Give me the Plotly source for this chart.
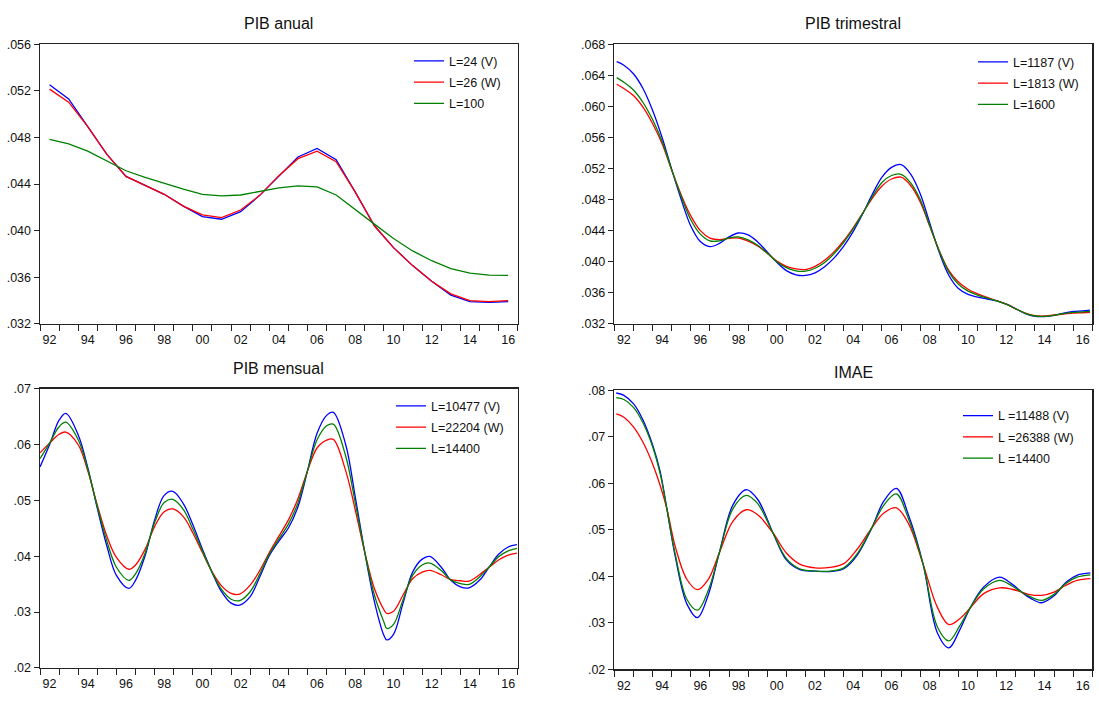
import plotly.graph_objects as go

W, H = 1099, 703

# ---------------- data ----------------
# PIB anual (annual observations)
anual_years = list(range(1992, 2017))
anual_v = [0.05252, 0.05131, 0.04893, 0.04654, 0.04466, 0.04387, 0.04312, 0.04211, 0.04121, 0.04098,
           0.04163, 0.04303, 0.04472, 0.04632, 0.04705, 0.04609, 0.04331, 0.04042, 0.03854, 0.03700,
           0.03565, 0.03447, 0.03391, 0.03385, 0.03391]
anual_w = [0.05215, 0.05103, 0.04893, 0.04654, 0.04466, 0.04387, 0.04312, 0.04211, 0.04135, 0.04112,
           0.04177, 0.04303, 0.04472, 0.04618, 0.04682, 0.04592, 0.04331, 0.04042, 0.03854, 0.03700,
           0.03565, 0.03458, 0.03399, 0.03391, 0.03399]
anual_l = [0.04783, 0.04744, 0.04682, 0.04598, 0.04514, 0.04458, 0.04407, 0.04356, 0.04312, 0.04298,
           0.04306, 0.04337, 0.04368, 0.04385, 0.04376, 0.04306, 0.04185, 0.04056, 0.03933, 0.03826,
           0.03742, 0.03674, 0.03635, 0.03618, 0.03616]

# PIB trimestral (values read at these dates, in years)
trim_x = [1992.125, 1992.5, 1993.0, 1993.5, 1994.0, 1994.5, 1995.0, 1995.5, 1996.0, 1996.5,
          1997.0, 1997.5, 1998.0, 1998.5, 1999.0, 1999.5, 2000.0, 2000.5, 2001.0, 2001.5,
          2002.0, 2002.5, 2003.0, 2003.5, 2004.0, 2004.5, 2005.0, 2005.5, 2006.0, 2006.5,
          2007.0, 2007.5, 2008.0, 2008.5, 2009.0, 2009.5, 2010.0, 2010.5, 2011.0, 2011.5,
          2012.0, 2012.5, 2013.0, 2013.5, 2014.0, 2014.5, 2015.0, 2015.5, 2016.0, 2016.5, 2016.875]
trim_v = [0.06575, 0.06530, 0.06420, 0.06230, 0.05950, 0.05600, 0.05190, 0.04800, 0.04460, 0.04260,
          0.04194, 0.04236, 0.04320, 0.04370, 0.04345, 0.04255, 0.04126, 0.03992, 0.03886, 0.03832,
          0.03823, 0.03857, 0.03935, 0.04050, 0.04200, 0.04390, 0.04620, 0.04870, 0.05090, 0.05215,
          0.05250, 0.05128, 0.04876, 0.04497, 0.04118, 0.03823, 0.03655, 0.03579, 0.03545, 0.03520,
          0.03495, 0.03453, 0.03394, 0.03331, 0.03297, 0.03293, 0.03309, 0.03339, 0.03360, 0.03368, 0.03377]
trim_w = [0.06285, 0.06230, 0.06140, 0.05990, 0.05780, 0.05520, 0.05180, 0.04860, 0.04590, 0.04400,
          0.04305, 0.04285, 0.04300, 0.04305, 0.04265, 0.04202, 0.04110, 0.04008, 0.03941, 0.03907,
          0.03899, 0.03941, 0.04020, 0.04130, 0.04270, 0.04440, 0.04630, 0.04820, 0.04975, 0.05065,
          0.05088, 0.04981, 0.04771, 0.04455, 0.04139, 0.03886, 0.03739, 0.03646, 0.03587, 0.03541,
          0.03499, 0.03453, 0.03394, 0.03339, 0.03305, 0.03301, 0.03314, 0.03326, 0.03339, 0.03343, 0.03347]
trim_l = [0.06370, 0.06310, 0.06210, 0.06050, 0.05830, 0.05550, 0.05185, 0.04840, 0.04540, 0.04355,
          0.04268, 0.04268, 0.04307, 0.04320, 0.04282, 0.04211, 0.04110, 0.04000, 0.03924, 0.03882,
          0.03878, 0.03916, 0.03990, 0.04105, 0.04250, 0.04425, 0.04625, 0.04840, 0.05020, 0.05110,
          0.05125, 0.05015, 0.04800, 0.04463, 0.04135, 0.03865, 0.03709, 0.03621, 0.03571, 0.03533,
          0.03495, 0.03453, 0.03394, 0.03335, 0.03301, 0.03297, 0.03309, 0.03331, 0.03347, 0.03354, 0.03360]

# PIB mensual
mens_x = [1992.0, 1992.5, 1993.0, 1993.35, 1994.0, 1994.5, 1995.0, 1995.5, 1996.0, 1996.65,
          1997.0, 1997.5, 1998.0, 1998.5, 1998.95, 1999.5, 2000.0, 2000.5, 2001.0, 2001.5,
          2002.0, 2002.45, 2003.0, 2003.5, 2004.0, 2004.5, 2005.0, 2005.5, 2006.0, 2006.5,
          2007.0, 2007.35, 2008.0, 2008.5, 2009.0, 2009.5, 2010.0, 2010.15, 2010.5, 2011.0,
          2011.5, 2012.0, 2012.4, 2013.0, 2013.5, 2014.0, 2014.45, 2015.0, 2015.5, 2016.0,
          2016.5, 2016.96]
mens_v = [0.05596, 0.05994, 0.06433, 0.06555, 0.06170, 0.05585, 0.04854, 0.04181, 0.03655, 0.03422,
          0.03567, 0.04006, 0.04649, 0.05088, 0.05160, 0.04941, 0.04561, 0.04123, 0.03714, 0.03363,
          0.03158, 0.03124, 0.03275, 0.03626, 0.04006, 0.04269, 0.04503, 0.04883, 0.05526, 0.06199,
          0.06520, 0.06575, 0.05994, 0.05058, 0.04064, 0.03187, 0.02580, 0.02500, 0.02600, 0.03158,
          0.03714, 0.03947, 0.03994, 0.03801, 0.03567, 0.03450, 0.03433, 0.03567, 0.03801, 0.04035,
          0.04164, 0.04205]
mens_w = [0.05848, 0.06023, 0.06181, 0.06220, 0.05994, 0.05526, 0.04912, 0.04357, 0.03977, 0.03765,
          0.03842, 0.04123, 0.04532, 0.04795, 0.04845, 0.04708, 0.04415, 0.04064, 0.03725, 0.03468,
          0.03333, 0.03320, 0.03480, 0.03743, 0.04064, 0.04357, 0.04649, 0.05029, 0.05526, 0.05936,
          0.06076, 0.06090, 0.05526, 0.04825, 0.04064, 0.03421, 0.03041, 0.02975, 0.03012, 0.03304,
          0.03596, 0.03714, 0.03745, 0.03667, 0.03579, 0.03560, 0.03552, 0.03667, 0.03801, 0.03930,
          0.04018, 0.04053]
mens_l = [0.05743, 0.06023, 0.06316, 0.06398, 0.06082, 0.05556, 0.04883, 0.04269, 0.03801, 0.03567,
          0.03684, 0.04053, 0.04602, 0.04959, 0.05017, 0.04836, 0.04485, 0.04094, 0.03714, 0.03404,
          0.03228, 0.03205, 0.03363, 0.03678, 0.04035, 0.04310, 0.04573, 0.04953, 0.05526, 0.06082,
          0.06333, 0.06362, 0.05789, 0.04953, 0.04064, 0.03304, 0.02819, 0.02705, 0.02778, 0.03216,
          0.03655, 0.03842, 0.03877, 0.03743, 0.03573, 0.03510, 0.03495, 0.03626, 0.03801, 0.03988,
          0.04094, 0.04140]

# IMAE
imae_x = [1992.1, 1992.5, 1993.0, 1993.5, 1994.0, 1994.4, 1994.75, 1995.2, 1995.8, 1996.35,
          1996.9, 1997.5, 1998.2, 1998.9, 1999.5, 2000.3, 2001.0, 2001.7, 2002.5, 2003.3,
          2004.0, 2004.7, 2005.45, 2006.1, 2006.75, 2007.4, 2008.15, 2008.9, 2009.5, 2010.05,
          2010.6, 2011.3, 2012.15, 2012.8, 2013.3, 2013.8, 2014.35, 2015.0, 2015.6, 2016.2, 2016.9]
imae_v = [0.0794, 0.0789, 0.0771, 0.0736, 0.0683, 0.0625, 0.0545, 0.0440, 0.0340, 0.0311,
          0.0358, 0.0452, 0.0553, 0.0586, 0.0565, 0.0493, 0.0435, 0.0414, 0.0411, 0.0410,
          0.0416, 0.0445, 0.0502, 0.0562, 0.0589, 0.0530, 0.0426, 0.0278, 0.0246, 0.0283,
          0.0331, 0.0376, 0.0398, 0.0383, 0.0366, 0.0352, 0.0343, 0.0358, 0.0386, 0.0402, 0.0407]
imae_w = [0.0749, 0.0742, 0.0721, 0.0688, 0.0642, 0.0595, 0.0545, 0.0462, 0.0393, 0.0371,
          0.0392, 0.0451, 0.0518, 0.0543, 0.0532, 0.0493, 0.0450, 0.0426, 0.0418, 0.0419,
          0.0427, 0.0458, 0.0503, 0.0536, 0.0547, 0.0512, 0.0426, 0.0333, 0.0296, 0.0308,
          0.0331, 0.0362, 0.0375, 0.0372, 0.0366, 0.0360, 0.0359, 0.0366, 0.0380, 0.0391, 0.0395]
imae_l = [0.0784, 0.0780, 0.0763, 0.0730, 0.0679, 0.0620, 0.0545, 0.0445, 0.0350, 0.0327,
          0.0368, 0.0451, 0.0545, 0.0574, 0.0556, 0.0493, 0.0438, 0.0416, 0.0411, 0.0411,
          0.0418, 0.0448, 0.0503, 0.0553, 0.0577, 0.0522, 0.0426, 0.0291, 0.0261, 0.0292,
          0.0331, 0.0372, 0.0391, 0.0379, 0.0366, 0.0355, 0.0348, 0.0361, 0.0384, 0.0398, 0.0403]

# labels
titles = ["PIB anual", "PIB trimestral", "PIB mensual", "IMAE"]
names_anual = ["L=24 (V)", "L=26 (W)", "L=100"]
names_trim = ["L=1187 (V)", "L=1813 (W)", "L=1600"]
names_mens = ["L=10477 (V)", "L=22204 (W)", "L=14400"]
names_imae = ["L =11488 (V)", "L =26388 (W)", "L =14400"]

year_labels = ["92", "94", "96", "98", "00", "02", "04", "06", "08", "10", "12", "14", "16"]
label_years = [1992, 1994, 1996, 1998, 2000, 2002, 2004, 2006, 2008, 2010, 2012, 2014, 2016]

yt_anual = [0.032, 0.036, 0.040, 0.044, 0.048, 0.052, 0.056]
yl_anual = [".032", ".036", ".040", ".044", ".048", ".052", ".056"]
yt_trim = [0.032, 0.036, 0.040, 0.044, 0.048, 0.052, 0.056, 0.060, 0.064, 0.068]
yl_trim = [".032", ".036", ".040", ".044", ".048", ".052", ".056", ".060", ".064", ".068"]
yt_mens = [0.02, 0.03, 0.04, 0.05, 0.06, 0.07]
yl_mens = [".02", ".03", ".04", ".05", ".06", ".07"]
yt_imae = [0.02, 0.03, 0.04, 0.05, 0.06, 0.07, 0.08]
yl_imae = [".02", ".03", ".04", ".05", ".06", ".07", ".08"]

colors = ["#0000FF", "#FF0000", "#008000"]
FONT = "Arial, Liberation Sans, sans-serif"

# ---------------- layout geometry (pixels) ----------------
# frame: left, right, top, bottom
frames = [
    (40, 517.7, 38.0, 323.3),
    (614.3, 1092.3, 38.0, 323.3),
    (40, 517.7, 389.3, 674.3),
    (614.3, 1092.3, 391.0, 675.7),
]
title_y = [17, 17, 368.5, 372.5]
legend_pos = [(409, 40), (973, 41), (391, 392), (958, 402)]  # (left x, top y)


def px_x(v):
    return v / W


def px_y(v):
    return 1 - v / H


fig = go.Figure()

series = [
    (anual_years, [anual_v, anual_w, anual_l], names_anual, "linear"),
    (trim_x, [trim_v, trim_w, trim_l], names_trim, "spline"),
    (mens_x, [mens_v, mens_w, mens_l], names_mens, "spline"),
    (imae_x, [imae_v, imae_w, imae_l], names_imae, "spline"),
]

for i, (xs, ys_list, names, shape) in enumerate(series):
    ax = "" if i == 0 else str(i + 1)
    leg = "legend" if i == 0 else "legend" + str(i + 1)
    for j, (ys, nm, c) in enumerate(zip(ys_list, names, colors)):
        fig.add_trace(go.Scatter(
            x=xs, y=ys, name=nm, mode="lines",
            line=dict(color=c, width=1.3, shape=shape, smoothing=1.0),
            xaxis="x" + ax, yaxis="y" + ax, legend=leg,
            legendgroup="p%d_s%d" % (i, j),
        ))

yspecs = [(yt_anual, yl_anual), (yt_trim, yl_trim), (yt_mens, yl_mens), (yt_imae, yl_imae)]

layout = dict(
    width=W, height=H, margin=dict(l=0, r=0, t=0, b=0),
    paper_bgcolor="white", plot_bgcolor="white",
    font=dict(family=FONT, size=12.5, color="black"),
    annotations=[],
)

for i in range(4):
    ax = "" if i == 0 else str(i + 1)
    l, r, t, b = frames[i]
    if i == 0:
        xr = [1991.5, 2016.5]
        lab_pos = label_years
        minor_pos = [1991.5 + k for k in range(26)]
    else:
        xr = [1992, 2017]
        lab_pos = [v + 0.5 for v in label_years]
        minor_pos = list(range(1992, 2018))
    yt, yl = yspecs[i]
    layout["xaxis" + ax] = dict(
        domain=[px_x(l), px_x(r)], range=xr, anchor="y" + ax,
        tickmode="array", tickvals=lab_pos, ticktext=year_labels,
        ticks="outside", ticklen=4, tickcolor="rgba(0,0,0,0)",
        minor=dict(tickmode="array", tickvals=minor_pos, ticks="outside",
                   ticklen=6, tickwidth=1, tickcolor="#222"),
        showline=True, linecolor="#222", linewidth=1.5, mirror=True,
        showgrid=False, zeroline=False, fixedrange=True,
        tickfont=dict(family=FONT, size=12.5, color="#111"),
    )
    layout["yaxis" + ax] = dict(
        domain=[px_y(b), px_y(t)], range=[yt[0], yt[-1]], anchor="x" + ax,
        tickmode="array", tickvals=yt, ticktext=yl,
        ticks="outside", ticklen=5, tickwidth=1, tickcolor="#222",
        showline=True, linecolor="#222", linewidth=1.5, mirror=True,
        showgrid=False, zeroline=False, fixedrange=True,
        tickfont=dict(family=FONT, size=12.5, color="#111"),
    )
    layout["annotations"].append(dict(
        text=titles[i], xref="paper", yref="paper",
        x=px_x((l + r) / 2), y=px_y(title_y[i]), xanchor="center", yanchor="middle",
        showarrow=False, font=dict(family=FONT, size=16, color="#111"),
    ))
    lx, ly = legend_pos[i]
    layout["legend" if i == 0 else "legend" + str(i + 1)] = dict(
        x=px_x(lx), y=px_y(ly), xanchor="left", yanchor="top",
        bgcolor="rgba(255,255,255,0)", borderwidth=0, tracegroupgap=2,
        font=dict(family=FONT, size=12.5, color="#111"),
        itemclick=False, itemdoubleclick=False,
    )

fig.update_layout(**layout)

fig.write_html("out.html", config={"displayModeBar": False, "staticPlot": True},
               post_script="document.body.style.margin='0';document.body.style.overflow='hidden';")
